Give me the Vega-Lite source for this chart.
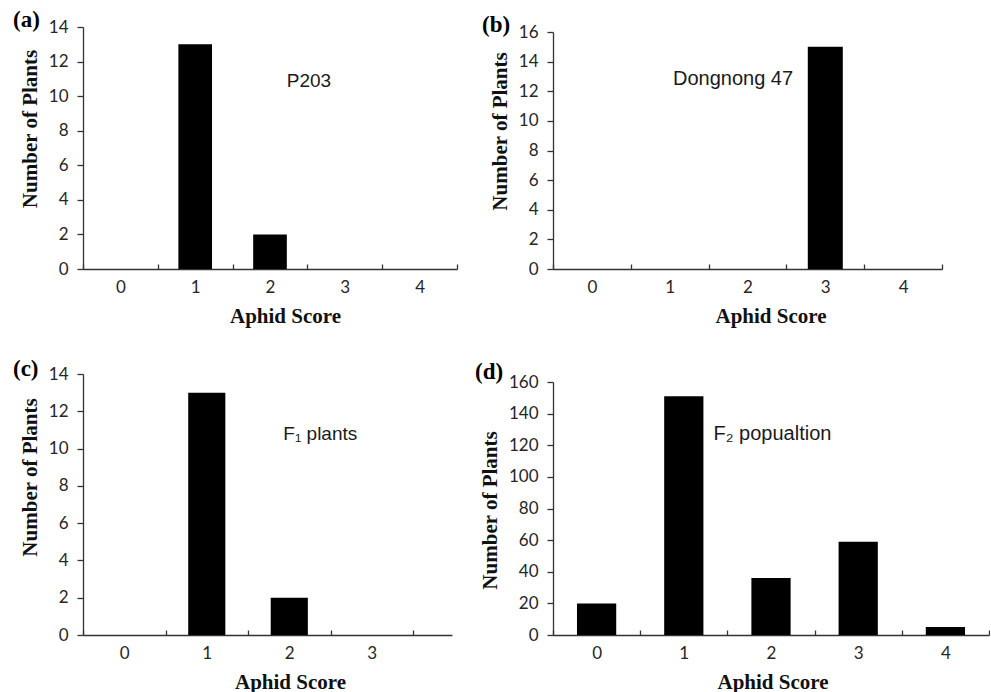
{
  "$schema": "https://vega.github.io/schema/vega-lite/v6.json",
  "background": "white",
  "padding": {"left": 13, "top": 9, "right": 0, "bottom": 0},
  "columns": 2,
  "align": "each",
  "bounds": "flush",
  "spacing": {"row": 105, "column": 96},
  "concat": [
    {
      "width": 374, "height": 242,
      "title": {"text": "(a)", "dx": -70, "dy": 18},
      "encoding": {
        "x": {"field": "score", "type": "nominal",
              "scale": {"domain": ["0", "1", "2", "3", "4"], "paddingInner": 0, "paddingOuter": 0},
              "axis": {"title": "Aphid Score", "titleX": 202}},
        "y": {"field": "plants", "type": "quantitative",
              "scale": {"domain": [0, 14], "nice": false},
              "axis": {"title": "Number of Plants", "values": [0, 2, 4, 6, 8, 10, 12, 14], "titleY": 101.5}}
      },
      "layer": [
        {
          "data": {"values": [
            {"score": "0", "plants": 0}, {"score": "1", "plants": 13}, {"score": "2", "plants": 2},
            {"score": "3", "plants": 0}, {"score": "4", "plants": 0}
          ]},
          "mark": {"type": "bar", "color": "#000", "width": {"band": 0.45}}
        },
        {
          "data": {"values": [{"score": "2", "plants": 10.9, "label": "P203"}]},
          "mark": {"type": "text", "align": "center", "baseline": "middle", "dx": 39},
          "encoding": {"text": {"field": "label"}}
        }
      ]
    },
    {
      "width": 389, "height": 242,
      "title": {"text": "(b)", "dx": -71, "dy": 18},
      "encoding": {
        "x": {"field": "score", "type": "nominal",
              "scale": {"domain": ["0", "1", "2", "3", "4"], "paddingInner": 0, "paddingOuter": 0},
              "axis": {"title": "Aphid Score", "titleX": 217.5}},
        "y": {"field": "plants", "type": "quantitative",
              "scale": {"domain": [0, 16], "nice": false, "range": [242, 5]},
              "axis": {"title": "Number of Plants", "values": [0, 2, 4, 6, 8, 10, 12, 14, 16], "titleY": 104}}
      },
      "layer": [
        {
          "data": {"values": [
            {"score": "0", "plants": 0}, {"score": "1", "plants": 0}, {"score": "2", "plants": 0},
            {"score": "3", "plants": 15}, {"score": "4", "plants": 0}
          ]},
          "mark": {"type": "bar", "color": "#000", "width": {"band": 0.45}}
        },
        {
          "data": {"values": [{"score": "2", "plants": 12.83, "label": "Dongnong 47"}]},
          "mark": {"type": "text", "align": "center", "baseline": "middle", "dx": -14.5, "fontSize": 20},
          "encoding": {"text": {"field": "label"}}
        }
      ]
    },
    {
      "width": 369, "height": 261,
      "title": {"text": "(c)", "dx": -70, "dy": 20},
      "encoding": {
        "x": {"field": "score", "type": "nominal",
              "scale": {"domain": ["0", "1", "2", "3"], "paddingInner": 0, "paddingOuter": 0.236, "align": 0},
              "axis": {"title": "Aphid Score", "titleX": 207}},
        "y": {"field": "plants", "type": "quantitative",
              "scale": {"domain": [0, 14], "nice": false},
              "axis": {"title": "Number of Plants", "values": [0, 2, 4, 6, 8, 10, 12, 14], "titleY": 103}}
      },
      "layer": [
        {
          "data": {"values": [
            {"score": "0", "plants": 0}, {"score": "1", "plants": 13}, {"score": "2", "plants": 2},
            {"score": "3", "plants": 0}
          ]},
          "mark": {"type": "bar", "color": "#000", "width": {"band": 0.45}}
        },
        {
          "data": {"values": [{"score": "2", "plants": 10.78, "label": "F₁ plants"}]},
          "mark": {"type": "text", "align": "center", "baseline": "middle", "dx": 31},
          "encoding": {"text": {"field": "label"}}
        }
      ]
    },
    {
      "width": 436, "height": 261,
      "title": {"text": "(d)", "dx": -78, "dy": 15},
      "encoding": {
        "x": {"field": "score", "type": "nominal",
              "scale": {"domain": ["0", "1", "2", "3", "4"], "paddingInner": 0, "paddingOuter": 0},
              "axis": {"title": "Aphid Score", "titleX": 219.5}},
        "y": {"field": "plants", "type": "quantitative",
              "scale": {"domain": [0, 160], "nice": false, "range": [261, 8]},
              "axis": {"title": "Number of Plants", "values": [0, 20, 40, 60, 80, 100, 120, 140, 160], "titleY": 136}}
      },
      "layer": [
        {
          "data": {"values": [
            {"score": "0", "plants": 20}, {"score": "1", "plants": 151}, {"score": "2", "plants": 36},
            {"score": "3", "plants": 59}, {"score": "4", "plants": 5}
          ]},
          "mark": {"type": "bar", "color": "#000", "width": {"band": 0.45}}
        },
        {
          "data": {"values": [{"score": "2", "plants": 127.2, "label": "F₂ popualtion"}]},
          "mark": {"type": "text", "align": "center", "baseline": "middle", "dx": 1.5, "fontSize": 20},
          "encoding": {"text": {"field": "label"}}
        }
      ]
    }
  ],
  "config": {
    "view": {"stroke": null},
    "title": {"font": "Liberation Serif", "fontSize": 23, "fontWeight": "bold", "color": "#000", "anchor": "start", "frame": "group", "offset": 0},
    "text": {"font": "Liberation Sans", "fontSize": 19, "color": "#1a1a1a"},
    "axis": {"grid": false, "ticks": true, "domainColor": "#333", "domainWidth": 1.3, "tickColor": "#333", "tickWidth": 1.3,
             "labelFont": "Lato", "labelFontSize": 17, "labelColor": "#262626", "labelOverlap": false,
             "titleFont": "Liberation Serif", "titleFontSize": 21, "titleFontWeight": "bold", "titleColor": "#111"},
    "axisX": {"tickSize": -5, "labelPadding": 15, "labelAngle": 0, "tickBand": "extent", "titlePadding": 10},
    "axisY": {"tickSize": 6, "labelPadding": 9, "titlePadding": 8}
  }
}
